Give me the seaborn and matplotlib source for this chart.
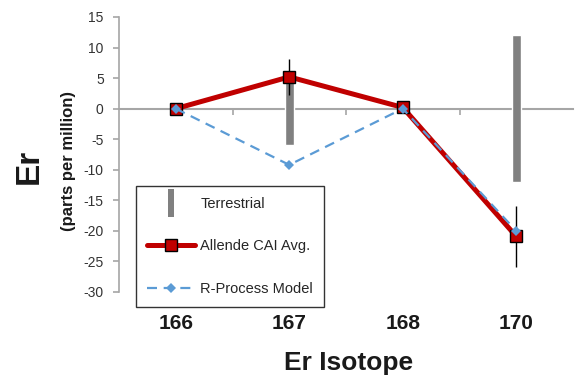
import numpy as np
import pandas as pd
import matplotlib
matplotlib.use("Agg")
import matplotlib.pyplot as plt
import seaborn as sns
from matplotlib.lines import Line2D

# data
isotopes = ['166', '167', '168', '170']
allende = [0.0, 5.2, 0.2, -20.9]
allende_err = [0.0, 3.0, 0.0, 5.0]
rprocess = [0.0, -9.2, 0.0, -20.0]
terrestrial_err = [0.0, 6.0, 0.0, 12.0]

sns.set_theme(style='white')
plt.rcParams['font.family'] = ['Liberation Sans', 'DejaVu Sans']
plt.rcParams['axes.unicode_minus'] = False

df = pd.DataFrame({'pos': np.arange(len(isotopes)),
                   'allende': allende,
                   'rprocess': rprocess})
terr = np.array(terrestrial_err)

fig = plt.figure(figsize=(5.75, 3.78), dpi=100)
ax = fig.add_axes([119 / 575, 1 - 292 / 378, 454 / 575, 275 / 378])

red = '#C00000'
blue = '#5B9BD5'
grey_axis = '#A6A6A6'

# terrestrial ranges as thick grey bars
ax.bar(df['pos'], 2 * terr, bottom=-terr, width=0.08, color='#808080', zorder=2)

# allende error bars
ax.errorbar(df['pos'], df['allende'], yerr=allende_err, fmt='none',
            ecolor='black', elinewidth=1, capsize=0, zorder=3)

sns.lineplot(data=df, x='pos', y='allende', ax=ax, color=red, linewidth=3.6,
             marker='s', markersize=8, markerfacecolor=red,
             markeredgecolor='black', markeredgewidth=1, zorder=4)
sns.lineplot(data=df, x='pos', y='rprocess', ax=ax, color=blue, linewidth=1.6,
             dashes=False, linestyle=(0, (4.5, 3)), marker='D', markersize=5,
             markeredgewidth=0, zorder=5)

ax.set_xlim(-0.5, 3.5)
ax.set_ylim(-30, 15)
ax.set_yticks(range(-30, 16, 5))
ax.set_xlabel('')
ax.set_ylabel('')

for side in ['top', 'right']:
    ax.spines[side].set_visible(False)
ax.spines['left'].set_color(grey_axis)
ax.spines['left'].set_linewidth(1.2)
ax.spines['bottom'].set_position(('data', 0))
ax.spines['bottom'].set_color(grey_axis)
ax.spines['bottom'].set_linewidth(1.5)
ax.spines['bottom'].set_zorder(1)

ax.tick_params(axis='y', direction='out', length=4, width=1.2, color=grey_axis,
               labelsize=10, labelcolor='#333333', pad=7, left=True)
ax.set_xticks(range(len(isotopes)))
ax.set_xticks([0.5, 1.5, 2.5], minor=True)
ax.tick_params(axis='x', which='major', length=0, labelbottom=False)
ax.tick_params(axis='x', which='minor', direction='out', length=4, width=1.2,
               color=grey_axis, bottom=True)

# category labels along the bottom of the plot area
sec = ax.secondary_xaxis('bottom')
sec.set_xticks(range(len(isotopes)), labels=isotopes)
sec.spines['bottom'].set_visible(False)
sec.tick_params(length=0, pad=16, labelsize=15, labelcolor='#1a1a1a')
for t in sec.get_xticklabels():
    t.set_fontweight('bold')

fig.text(349 / 575, 1 - 363 / 378, 'Er Isotope', fontsize=19, fontweight='bold',
         ha='center', va='center', color='#1a1a1a')
fig.text(29 / 575, 1 - 166 / 378, 'Er', fontsize=24, fontweight='bold',
         rotation=90, ha='center', va='center', color='#1a1a1a')
fig.text(69 / 575, 1 - 161 / 378, '(parts per million)', fontsize=12,
         fontweight='bold', rotation=90, ha='center', va='center', color='#1a1a1a')

handles = [
    Line2D([], [], linestyle='none', color='#808080', markeredgewidth=0,
           marker=[(-1, -4.5), (1, -4.5), (1, 4.5), (-1, 4.5), (-1, -4.5)],
           markersize=20),
    Line2D([], [], color=red, linewidth=3.6, marker='s', markersize=8,
           markerfacecolor=red, markeredgecolor='black', markeredgewidth=1),
    Line2D([], [], color=blue, linewidth=1.6, linestyle=(0, (4.5, 3)),
           marker='D', markersize=5, markeredgewidth=0),
]
leg = ax.legend(handles, ['Terrestrial', 'Allende CAI Avg.', 'R-Process Model'],
                loc='upper left', bbox_to_anchor=(136 / 575, 1 - 186 / 378),
                bbox_transform=fig.transFigure, borderaxespad=0,
                fontsize=10.5, handlelength=3.3, handletextpad=0.35,
                labelspacing=1.95, borderpad=0.75, fancybox=False,
                framealpha=1, edgecolor='#333333')
leg.get_frame().set_linewidth(1)
leg.set_zorder(10)

fig.savefig('out.png', dpi=100)
